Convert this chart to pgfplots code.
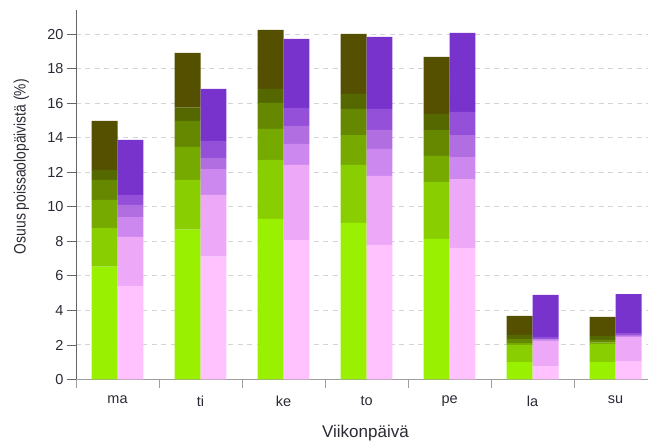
\documentclass[border=0pt]{standalone}
\usepackage{fontspec}
\setmainfont{Liberation Sans}
\newfontfamily\narrowfont[FakeStretch=0.84]{Liberation Sans}
\usepackage{pgfplots}
\usepackage{pgfplotstable}
\pgfplotsset{compat=1.18}

\definecolor{G1}{HTML}{99F000}
\definecolor{G2}{HTML}{88CE00}
\definecolor{G3}{HTML}{77AA00}
\definecolor{G4}{HTML}{668800}
\definecolor{G5}{HTML}{556800}
\definecolor{G6}{HTML}{545000}
\definecolor{P1}{HTML}{FFC2FF}
\definecolor{P2}{HTML}{EEA8F8}
\definecolor{P3}{HTML}{CC88EE}
\definecolor{P4}{HTML}{B06EE0}
\definecolor{P5}{HTML}{9450D8}
\definecolor{P6}{HTML}{7733CC}
\definecolor{txt}{HTML}{2A2A35}
\definecolor{gridc}{HTML}{D4D4D4}

% segment heights (bottom to top)
\pgfplotstableread{
x g1 g2 g3 g4 g5 g6
0 6.54 2.24 1.62 1.16 0.58 2.84
1 8.68 2.88 1.91 1.51 0.77 3.17
2 9.30 3.42 1.79 1.51 0.81 3.42
3 9.07 3.36 1.73 1.51 0.87 3.48
4 8.14 3.30 1.51 1.50 0.93 3.30
5 1.01 0.99 0.11 0.24 0.23 1.10
6 1.01 1.05 0.08 0.15 0.23 1.10
}\greendata

\pgfplotstableread{
x p1 p2 p3 p4 p5 p6
0 5.42 2.84 1.15 0.70 0.58 3.19
1 7.12 3.57 1.50 0.64 0.99 3.01
2 8.08 4.35 1.21 1.05 1.04 4.00
3 7.79 4.00 1.56 1.10 1.22 4.17
4 7.62 3.99 1.27 1.28 1.34 4.57
5 0.78 1.45 0.05 0.05 0.13 2.44
6 1.07 1.39 0.06 0.06 0.11 2.26
}\purpledata

\pgfplotsset{
  geom/.style={scale only axis, width=572pt, height=369.5pt,
    xmin=-0.5, xmax=6.39, ymin=0, ymax=21.4},
}

\begin{document}
\begin{tikzpicture}
\begin{axis}[
  geom,
  ybar stacked, bar width=0.312, bar shift=-0.156,
  axis lines*=left,
  x axis line style={draw=gray!75, line width=0.9pt},
  y axis line style={draw=black!60, line width=0.9pt},
  tick align=outside,
  major tick length=9pt,
  minor tick length=8.5pt,
  xtick={0,1,2,3,4,5,6},
  xticklabels={ma,ti,ke,to,pe,la,su},
  x tick style={draw=none},
  minor xtick={-0.5,0.5,1.5,2.5,3.5,4.5,5.5},
  minor x tick style={draw=gray!75, line width=0.9pt},
  ytick={0,2,...,20},
  y tick style={draw=black!60, line width=0.9pt},
  ymajorgrids,
  grid style={draw=gridc, line width=1pt, dash pattern=on 5pt off 4.5pt},
  /pgf/number format/assume math mode=true,
  ticklabel style={font=\fontsize{14.5}{17}\selectfont, text=txt},
  xticklabel style={yshift=-4pt},
  xlabel={Viikonpäivä},
  ylabel={Osuus poissaolopäivistä (\%)},
  xlabel style={font=\fontsize{17}{20}\selectfont, text=txt, at={(axis description cs:0.506,-0.158)}, anchor=base},
  ylabel style={font=\narrowfont\fontsize{16.5}{19}\selectfont, text=txt, at={(axis description cs:-0.0880,0.576)}, anchor=base},
]
\addplot[fill=G1, draw=none] table[x=x,y=g1]{\greendata};
\addplot[fill=G2, draw=none] table[x=x,y=g2]{\greendata};
\addplot[fill=G3, draw=none] table[x=x,y=g3]{\greendata};
\addplot[fill=G4, draw=none] table[x=x,y=g4]{\greendata};
\addplot[fill=G5, draw=none] table[x=x,y=g5]{\greendata};
\addplot[fill=G6, draw=none] table[x=x,y=g6]{\greendata};
\end{axis}
\begin{axis}[
  geom, hide axis,
  ybar stacked, bar width=0.312, bar shift=0.156,
]
\addplot[fill=P1, draw=none] table[x=x,y=p1]{\purpledata};
\addplot[fill=P2, draw=none] table[x=x,y=p2]{\purpledata};
\addplot[fill=P3, draw=none] table[x=x,y=p3]{\purpledata};
\addplot[fill=P4, draw=none] table[x=x,y=p4]{\purpledata};
\addplot[fill=P5, draw=none] table[x=x,y=p5]{\purpledata};
\addplot[fill=P6, draw=none] table[x=x,y=p6]{\purpledata};
\end{axis}
\pgfresetboundingbox
\path[use as bounding box] ([xshift=-76pt,yshift=-63.5pt]current axis.south west) rectangle ([yshift=10pt]current axis.north east);
\end{tikzpicture}
\end{document}
